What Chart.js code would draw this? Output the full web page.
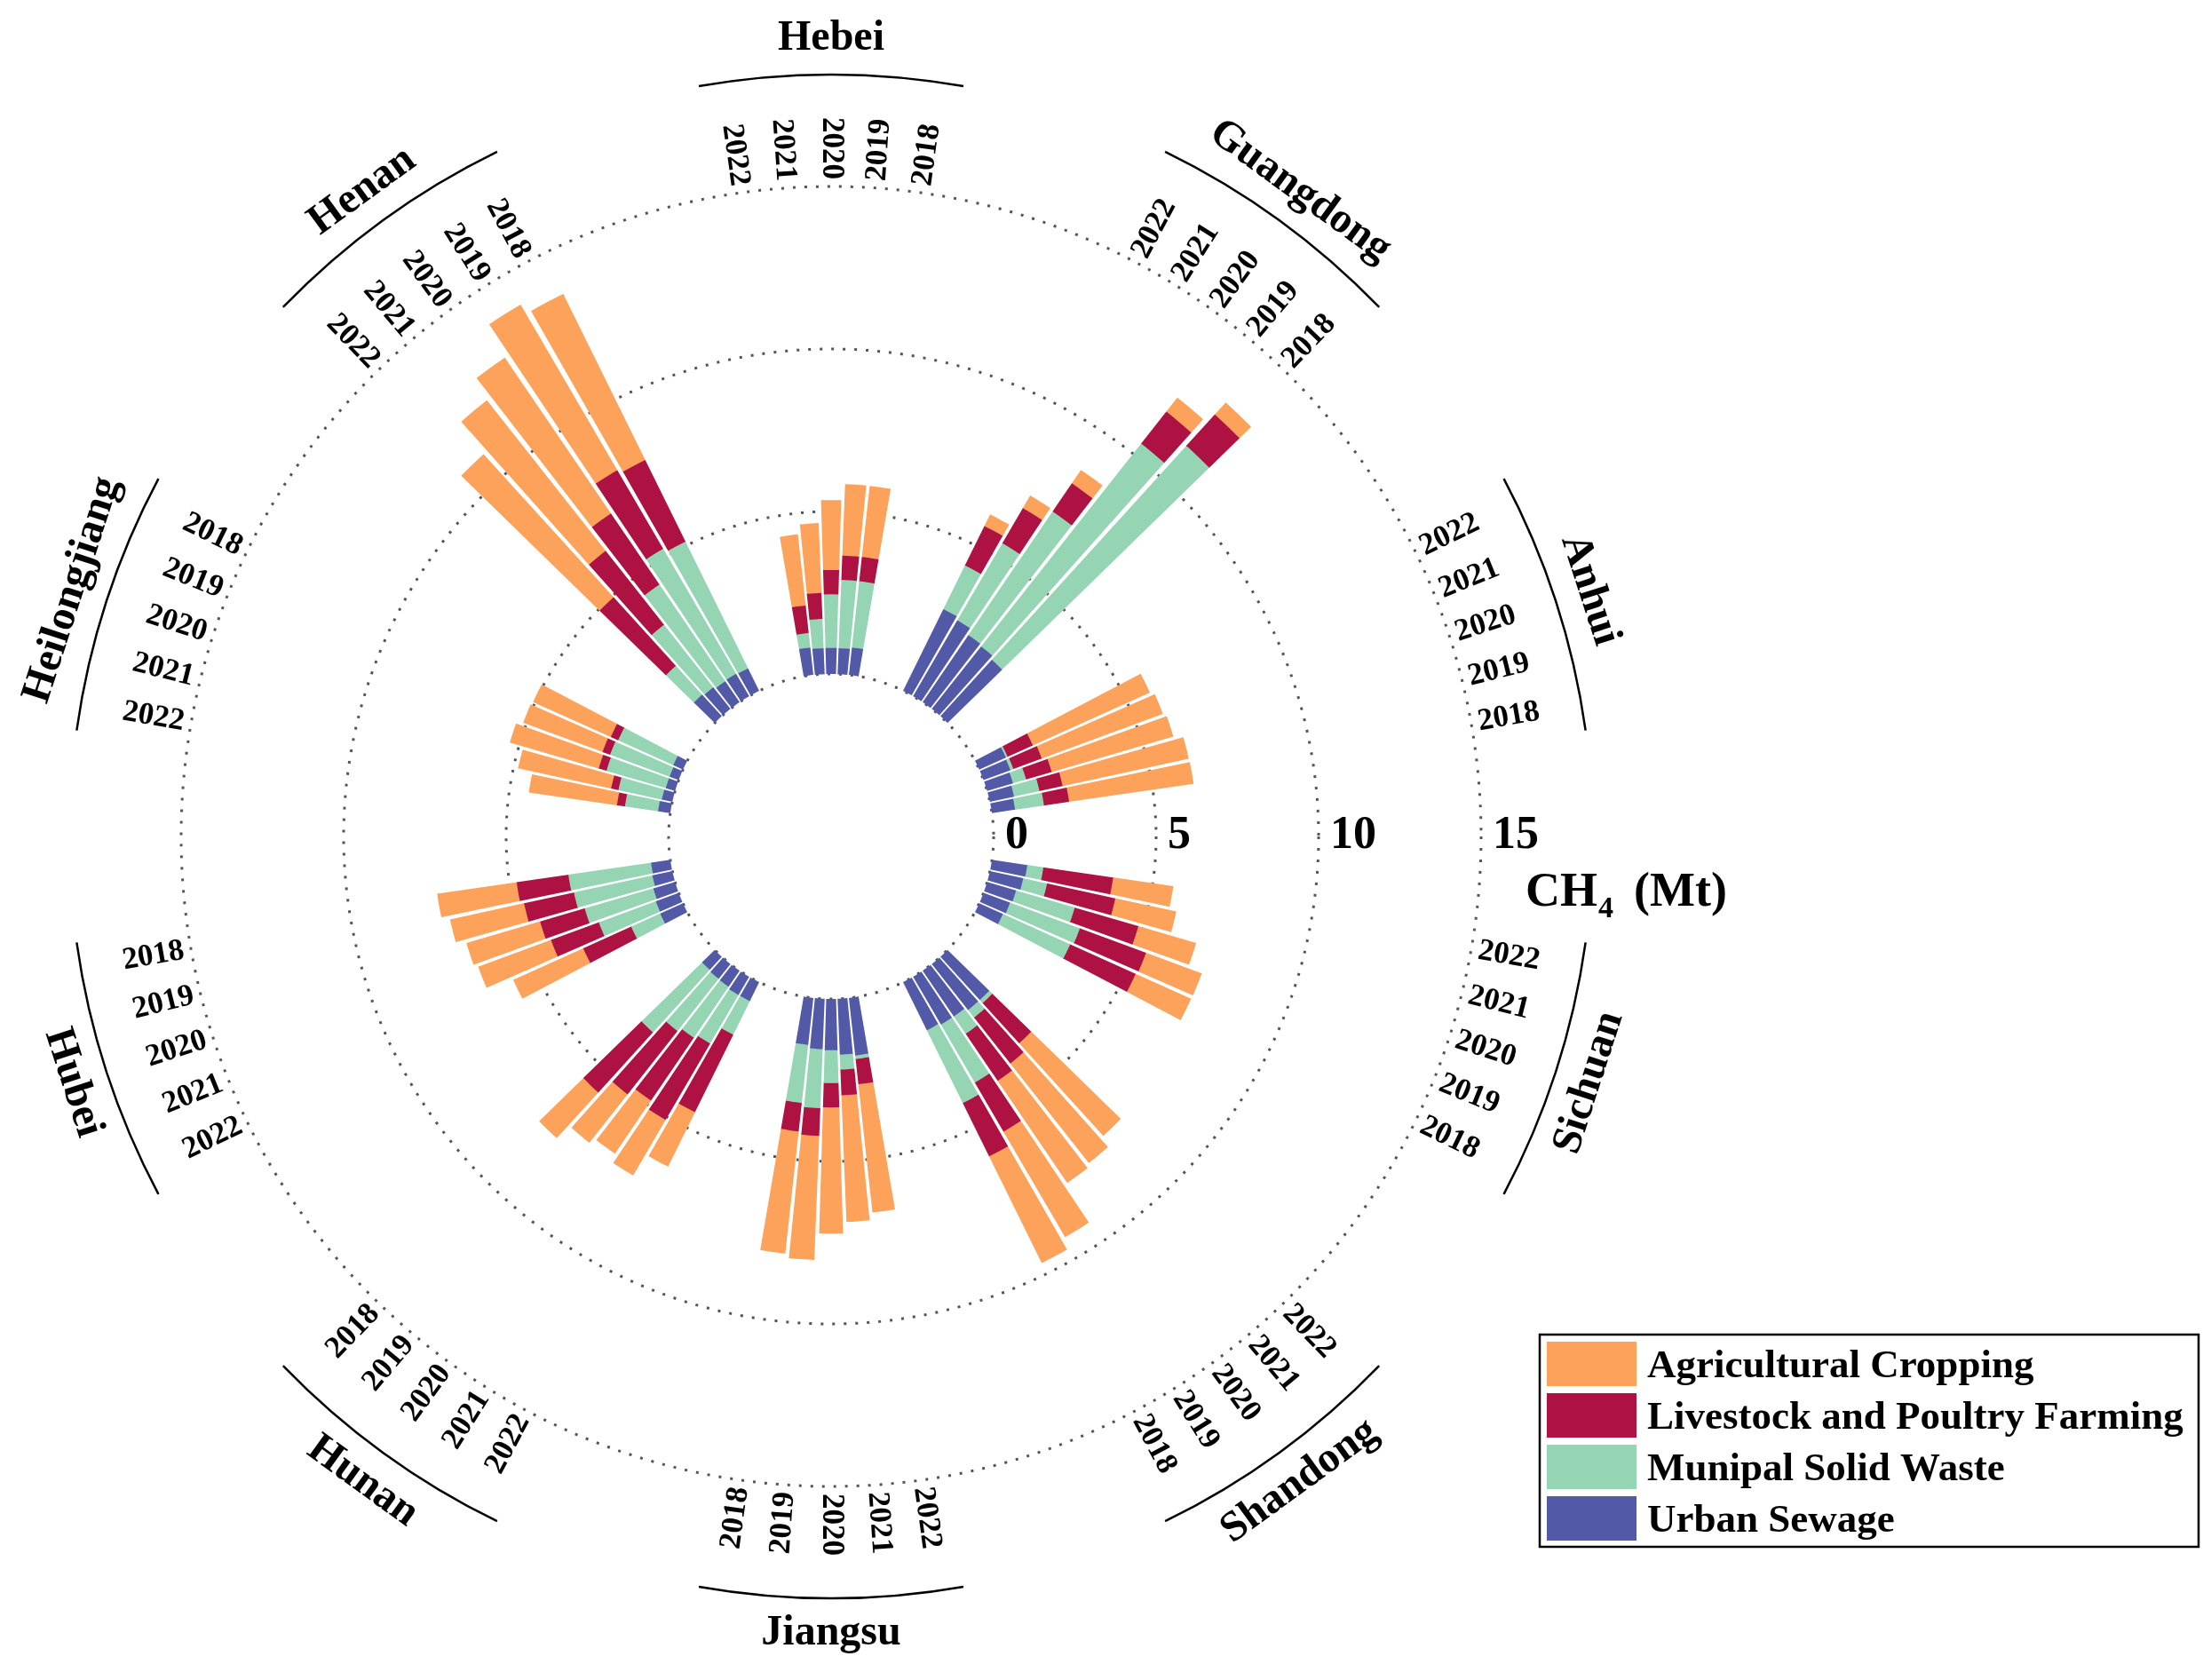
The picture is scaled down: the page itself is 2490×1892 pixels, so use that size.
<!DOCTYPE html>
<html>
<head>
<meta charset="utf-8">
<title>CH4 emissions by province</title>
<script src="https://cdn.jsdelivr.net/npm/chart.js"></script>
<style>
    html, body { margin: 0; padding: 0; background: #fff; }
    #wrap { width: 2490px; height: 1892px; position: relative; }
</style>
</head>
<body>
<div id="wrap"><canvas id="radialChart"></canvas></div>
<script>
const provinces = ['Hebei', 'Guangdong', 'Anhui', 'Sichuan', 'Shandong', 'Jiangsu', 'Hunan', 'Hubei', 'Heilongjiang', 'Henan'];
const years = ['2018', '2019', '2020', '2021', '2022'];
const categories = ['Agricultural Cropping', 'Livestock and Poultry Farming', 'Munipal Solid Waste', 'Urban Sewage'];
const colors = ['#fca25a', '#ad1243', '#96d5b4', '#525aa8'];
const radialTicks = [0, 5, 10, 15];

// Mt CH4, one row per province, columns 2018..2022
const urbanSewage = [
    [0.85, 0.8, 0.8, 0.8, 0.85],
    [2.35, 2.45, 2.5, 2.7, 2.8],
    [0.72, 0.76, 0.83, 0.88, 0.9],
    [0.8, 0.87, 0.93, 1.05, 1.1],
    [1.65, 1.7, 1.7, 1.8, 1.8],
    [1.45, 1.55, 1.58, 1.72, 1.78],
    [0.55, 0.58, 0.6, 0.65, 0.65],
    [0.6, 0.63, 0.7, 0.75, 0.77],
    [0.33, 0.3, 0.3, 0.33, 0.38],
    [0.77, 0.8, 0.78, 0.85, 0.9]
];
const solidWaste = [
    [2.05, 2.1, 1.65, 0.9, 0.45],
    [8.9, 7.95, 4.6, 2.75, 1.5],
    [0.9, 0.8, 0.42, 0.1, 0.06],
    [2.27, 2.29, 1.88, 0.75, 0.5],
    [2.5, 2.07, 0.65, 0.3, 0.13],
    [1.8, 1.82, 1.01, 0.46, 0.11],
    [2.6, 2.05, 1.9, 1.73, 1.15],
    [2.57, 2.47, 2.2, 1.87, 0.98],
    [1.86, 1.95, 1.9, 1.37, 1.03],
    [4.35, 4.45, 3.6, 2.45, 1.2]
];
const livestock = [
    [0.75, 0.75, 0.75, 0.8, 0.85],
    [1.3, 1.25, 1.05, 1.25, 1.35],
    [0.78, 0.73, 0.82, 0.93, 0.85],
    [2.21, 2.17, 2.04, 2.15, 2.17],
    [1.83, 1.75, 1.75, 1.8, 1.67],
    [0.88, 0.85, 0.75, 0.79, 0.78],
    [2.5, 2.48, 2.34, 2.72, 2.66],
    [1.61, 1.57, 1.43, 1.57, 1.62],
    [0.25, 0.25, 0.25, 0.23, 0.25],
    [2.8, 2.8, 2.65, 2.9, 2.85]
];
const cropping = [
    [2.2, 2.2, 2.15, 2.15, 2.2],
    [0.5, 0.55, 0.5, 0.45, 0.4],
    [3.87, 3.97, 3.9, 3.97, 3.95],
    [1.87, 1.83, 1.85, 1.92, 1.87],
    [3.66, 3.76, 3.8, 3.9, 3.85],
    [3.78, 3.82, 3.88, 3.9, 3.97],
    [1.9, 1.9, 1.97, 1.98, 1.87],
    [2.47, 2.33, 2.36, 2.39, 2.36],
    [2.62, 2.6, 2.85, 2.93, 2.74],
    [5.7, 5.9, 5.8, 5.9, 5.95]
];

const slotsPerProvince = 9; // 5 bars + 4 empty slots
const slotDeg = 360 / (provinces.length * slotsPerProvince);
const gapDeg = 0.55;
const serif = '"Liberation Serif", "Times New Roman", serif';

// slot order is clockwise: 2022 ... 2018, then the gap
const labels = [];
const slotIndex = [];
provinces.forEach((p, pi) => {
    for (let k = 0; k < slotsPerProvince; k++) {
        if (k < years.length) {
            const yi = years.length - 1 - k;
            labels.push(p + ' ' + years[yi]);
            slotIndex.push([pi, yi]);
        } else {
            labels.push('');
            slotIndex.push(null);
        }
    }
});

const stack = [urbanSewage, solidWaste, livestock, cropping];
const stackNames = [categories[3], categories[2], categories[1], categories[0]];
const stackColors = [colors[3], colors[2], colors[1], colors[0]];

const cumulative = (level) => slotIndex.map(s => {
    if (!s) return null;
    let sum = 0;
    for (let l = 0; l <= level; l++) sum += stack[l][s[0]][s[1]];
    return +sum.toFixed(3);
});

const toRad = (d) => d * Math.PI / 180;
const normDeg = (rad) => {
    let d = rad * 180 / Math.PI;
    d = ((d % 360) + 360) % 360;
    if (d > 180) d -= 360;
    return Math.round(d * 1000) / 1000;
};

// turn the polar slices into stacked ring segments with a small angular gap
const radialStack = {
    id: 'radialStack',
    afterDatasetsUpdate(chart) {
        const scale = chart.scales.r;
        const hole = scale.getDistanceFromCenterForValue(0);
        const inset = toRad(gapDeg / 2);
        chart.data.datasets.forEach((ds, i) => {
            const meta = chart.getDatasetMeta(i);
            const prev = i > 0 ? chart.getDatasetMeta(i - 1) : null;
            meta.data.forEach((arc, j) => {
                arc.innerRadius = prev ? Math.max(prev.data[j].outerRadius - 0.6, 0) : hole;
                arc.startAngle += inset;
                arc.endAngle -= inset;
            });
        });
    }
};

const annotations = {
    id: 'annotations',
    afterDraw(chart) {
        const ctx = chart.ctx;
        const scale = chart.scales.r;
        const cx = scale.xCenter;
        const cy = scale.yCenter;
        const arcs = chart.getDatasetMeta(0).data;
        const outer = scale.getDistanceFromCenterForValue(15);
        ctx.save();
        ctx.fillStyle = '#000';

        // year labels, radial
        ctx.font = 'bold 35px ' + serif;
        ctx.textBaseline = 'middle';
        arcs.forEach((arc, j) => {
            const s = slotIndex[j];
            if (!s) return;
            const mid = (arc.startAngle + arc.endAngle) / 2;
            const deg = normDeg(mid);
            ctx.save();
            ctx.translate(cx, cy);
            if (deg > -90 && deg <= 90) {
                ctx.rotate(toRad(deg));
                ctx.textAlign = 'left';
                ctx.fillText(years[s[1]], outer + 8, 0);
            } else {
                ctx.rotate(toRad(deg + 180));
                ctx.textAlign = 'right';
                ctx.fillText(years[s[1]], -(outer + 8), 0);
            }
            ctx.restore();
        });

        // province arcs and names
        provinces.forEach((p, pi) => {
            const a = arcs[pi * slotsPerProvince + 2];
            const mid = (a.startAngle + a.endAngle) / 2;
            const deg = normDeg(mid);
            const half = toRad(slotDeg * years.length / 2);
            ctx.beginPath();
            ctx.lineWidth = 2.5;
            ctx.strokeStyle = '#000';
            ctx.arc(cx, cy, 858, mid - half, mid + half);
            ctx.stroke();

            ctx.save();
            ctx.translate(cx, cy);
            ctx.font = 'bold 48px ' + serif;
            ctx.textAlign = 'center';
            ctx.textBaseline = 'alphabetic';
            if (deg < 0) {
                ctx.rotate(toRad(deg + 90));
                ctx.fillText(p, 0, -886);
            } else {
                ctx.rotate(toRad(deg - 90));
                ctx.fillText(p, 0, 910);
            }
            ctx.restore();
        });

        // radial axis values
        ctx.font = 'bold 52px ' + serif;
        ctx.textAlign = 'left';
        ctx.textBaseline = 'middle';
        radialTicks.forEach(v => {
            ctx.fillText(String(v), cx + scale.getDistanceFromCenterForValue(v) + 13, cy);
        });

        // axis unit
        ctx.textBaseline = 'alphabetic';
        ctx.font = 'bold 54px ' + serif;
        ctx.fillText('CH', 1718, 1020);
        const wCH = ctx.measureText('CH').width;
        ctx.font = 'bold 34px ' + serif;
        ctx.fillText('4', 1718 + wCH + 1, 1033);
        ctx.font = 'bold 54px ' + serif;
        ctx.fillText('(Mt)', 1840, 1020);

        // legend
        ctx.lineWidth = 2.5;
        ctx.strokeStyle = '#000';
        ctx.strokeRect(1734, 1503, 742, 239);
        ctx.font = 'bold 45px ' + serif;
        categories.forEach((c, i) => {
            const ry = 1511 + i * 58;
            ctx.fillStyle = colors[i];
            ctx.fillRect(1742, ry, 101, 50);
            ctx.fillStyle = '#000';
            ctx.fillText(c, 1855, ry + 40);
        });
        ctx.restore();
    }
};

const radialChart = new Chart(document.getElementById('radialChart'), {
    type: 'polarArea',
    data: {
        labels: labels,
        datasets: stack.map((arr, l) => ({
            label: stackNames[l],
            data: cumulative(l),
            backgroundColor: stackColors[l],
            borderWidth: 0
        }))
    },
    options: {
        responsive: true,
        maintainAspectRatio: false,
        animation: false,
        events: [],
        layout: { padding: { left: 204, right: 822, top: 210, bottom: 218 } },
        plugins: {
            legend: { display: false },
            tooltip: { enabled: false }
        },
        scales: {
            r: {
                min: -5,
                max: 15,
                startAngle: -slotDeg * 2.5,
                ticks: { display: false, stepSize: 5 },
                grid: {
                    circular: true,
                    color: (c) => (c.tick && c.tick.value < 0) ? 'rgba(0,0,0,0)' : '#555555',
                    lineWidth: 3
                },
                border: { dash: [3, 10] },
                angleLines: { display: false },
                pointLabels: { display: false }
            }
        }
    },
    plugins: [radialStack, annotations]
});
</script>
</body>
</html>
